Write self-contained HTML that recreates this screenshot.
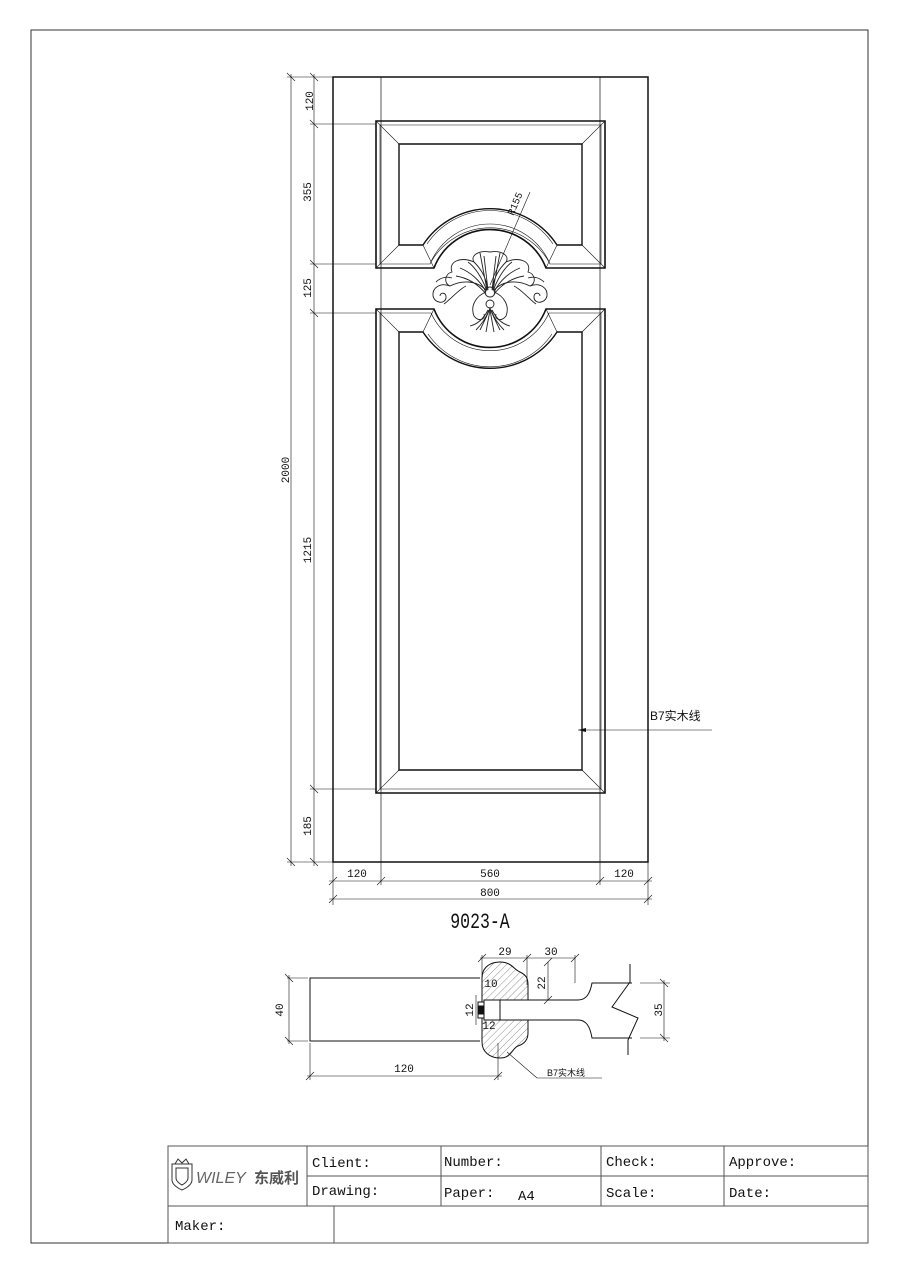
<!DOCTYPE html>
<html><head><meta charset="utf-8"><style>
html,body{margin:0;padding:0;background:#fff;}
svg{display:block}
text{font-family:"Liberation Sans","Noto Sans CJK SC",sans-serif;fill:#111}
.m{font-family:"Liberation Mono","Noto Sans CJK SC",monospace;}
</style></head><body>
<svg width="900" height="1274" viewBox="0 0 900 1274" xmlns="http://www.w3.org/2000/svg">
<rect x="31" y="30" width="837" height="1213" fill="none" stroke="#333" stroke-width="1"/>
<g fill="none" stroke="#111">
<rect x="333" y="77" width="315" height="785" stroke-width="1.5"/>
<line x1="381" y1="77" x2="381" y2="862" stroke-width="0.7"/>
<line x1="600" y1="77" x2="600" y2="862" stroke-width="0.7"/>
<path d="M376,121 H605 V268 H546 A60,60 0 0 0 434,268 H376 Z" stroke-width="1.6"/>
<path d="M380,125 H601 V264 H550 A65,65 0 0 0 430,264 H380 Z" stroke-width="0.6"/>
<path d="M399,144 H582 V245 H557 A80,80 0 0 0 423,245 H399 Z" stroke-width="1.4"/>
<path d="M427,244 A76,76 0 0 1 553,244 M431,262 A68,68 0 0 1 549,262" stroke-width="0.6"/>
<path d="M376,121 L399,144 M605,121 L582,144 M376,268 L399,245 M605,268 L582,245 M434,268 L423,245 M546,268 L557,245" stroke-width="0.6"/>
<path d="M376,309 H434 A60,60 0 0 0 546,309 H605 V793 H376 Z" stroke-width="1.6"/>
<path d="M380,313 H431 A65,65 0 0 0 549,313 H601 V789 H380 Z" stroke-width="0.6"/>
<path d="M399,332 H423 A80,80 0 0 0 557,332 H582 V770 H399 Z" stroke-width="1.4"/>
<path d="M428,334 A75,75 0 0 0 552,334" stroke-width="0.6"/>
<path d="M376,309 L399,332 M605,309 L582,332 M376,793 L399,770 M605,793 L582,770 M434,309 L423,332 M546,309 L557,332" stroke-width="0.6"/>
<g stroke-width="0.9" stroke="#222">
<path d="M490,252 C478,250 470,256 474,262 C460,256 448,262 452,272 C444,274 444,284 450,286 C462,280 476,280 486,290 M490,252 C502,250 510,256 506,262 C520,256 532,262 528,272 C536,274 536,284 530,286 C518,280 504,280 494,290"/>
<path d="M474,262 C480,268 486,276 488,290 M506,262 C500,268 494,276 492,290 M460,268 C470,272 480,280 486,292 M520,268 C510,272 500,280 494,292 M484,256 L488,290 M496,256 L492,290 M456,276 C468,278 478,284 486,294 M524,276 C512,278 502,284 494,294 M468,262 C476,268 482,278 487,291 M512,262 C504,268 498,278 493,291 M480,253 L487,290 M500,253 L493,290"/>
<path d="M486,292 C476,296 470,306 474,316 C478,322 486,320 484,314 M494,292 C504,296 510,306 506,316 C502,322 494,320 496,314"/>
<circle cx="490" cy="304" r="4"/>
<circle cx="490" cy="292" r="5"/>
<path d="M480,330 C484,322 488,314 490,308 C492,314 496,322 500,330 M470,326 C478,324 484,318 488,310 M510,326 C502,324 496,318 492,310 M486,332 L490,310 L494,332 M476,330 C482,324 486,318 489,310 M504,330 C498,324 494,318 491,310"/>
<path d="M450,286 C440,282 432,288 433,296 C435,304 445,304 446,298 C447,292 440,292 440,296 M444,304 C450,300 458,290 466,286 M436,282 C440,278 446,276 452,278"/>
<path d="M530,286 C540,282 548,288 547,296 C545,304 535,304 534,298 C533,292 540,292 540,296 M536,304 C530,300 522,290 514,286 M544,282 C540,278 534,276 528,278"/>
</g>
<line x1="490" y1="285" x2="530" y2="192" stroke-width="0.6"/>
<g stroke-width="0.6">
<line x1="291" y1="74" x2="291" y2="866"/>
<line x1="314" y1="74" x2="314" y2="866"/>
<line x1="287" y1="77" x2="333" y2="77"/>
<line x1="287" y1="862" x2="333" y2="862"/>
<line x1="310" y1="124" x2="376" y2="124"/>
<line x1="310" y1="264" x2="376" y2="264"/>
<line x1="310" y1="313" x2="376" y2="313"/>
<line x1="310" y1="789" x2="376" y2="789"/>
<path d="M287,73 l8,8 M310,73 l8,8 M287,858 l8,8 M310,858 l8,8 M310,120 l8,8 M310,260 l8,8 M310,309 l8,8 M310,785 l8,8"/>
<line x1="333" y1="862" x2="333" y2="905"/>
<line x1="648" y1="862" x2="648" y2="905"/>
<line x1="381" y1="862" x2="381" y2="885"/>
<line x1="600" y1="862" x2="600" y2="885"/>
<line x1="329" y1="881" x2="652" y2="881"/>
<line x1="329" y1="899" x2="652" y2="899"/>
<path d="M329,885 l8,-8 M377,885 l8,-8 M596,885 l8,-8 M644,885 l8,-8 M329,903 l8,-8 M644,903 l8,-8"/>
<path d="M578,730 H712"/>
</g>
<path d="M578,730 l8,-2 v4 z" fill="#111" stroke="none"/>
</g>
<g font-size="11" class="m">
<text x="310" y="101" transform="rotate(-90 310 101)" text-anchor="middle" dominant-baseline="middle" class="m">120</text>
<text x="308" y="192" transform="rotate(-90 308 192)" text-anchor="middle" class="m" dominant-baseline="middle">355</text>
<text x="308" y="288" transform="rotate(-90 308 288)" text-anchor="middle" class="m" dominant-baseline="middle">125</text>
<text x="308" y="550" transform="rotate(-90 308 550)" text-anchor="middle" class="m" dominant-baseline="middle">1215</text>
<text x="308" y="826" transform="rotate(-90 308 826)" text-anchor="middle" class="m" dominant-baseline="middle">185</text>
<text x="286" y="470" transform="rotate(-90 286 470)" text-anchor="middle" class="m" dominant-baseline="middle">2000</text>
<text x="357" y="877" text-anchor="middle" class="m">120</text>
<text x="490" y="877" text-anchor="middle" class="m">560</text>
<text x="624" y="877" text-anchor="middle" class="m">120</text>
<text x="490" y="896" text-anchor="middle" class="m">800</text>
<text x="518" y="205" transform="rotate(-67 518 205)" text-anchor="middle" class="m" font-size="10">R155</text>
</g>
<text x="650" y="720" font-size="12">B7实木线</text>
<text x="480" y="928" font-size="22" text-anchor="middle" transform="translate(480 0) scale(0.75 1) translate(-480 0)" class="m">9023-A</text>

<g fill="none" stroke="#111" stroke-width="1">
<defs><pattern id="h" width="5" height="5" patternUnits="userSpaceOnUse" patternTransform="rotate(45)"><line x1="0" y1="0" x2="0" y2="5" stroke="#444" stroke-width="0.6"/></pattern></defs>
<path d="M480,978 H310 V1041 H480"/>
<path d="M482,978 C482,966 492,962 500,962 C512,962 514,970 520,972 C526,975 528,978 528,985 V1000 H500 V1020 H528 V1033 C528,1040 524,1044 518,1046 C512,1048 512,1058 500,1058 C490,1058 482,1052 482,1042 Z" fill="url(#h)"/>
<path d="M484,1000 H500 V1020 H484 Z" fill="#fff"/>
<rect x="478" y="1002" width="6" height="16" fill="#fff"/>
<rect x="479" y="1006" width="5" height="8" fill="#111"/>
<path d="M500,1000 H578 C586,1000 590,994 592,983 H632 M500,1020 H578 C586,1020 590,1026 592,1038 H632"/>
<path d="M630,964 V982 L612,1007 L638,1018 L628,1040 V1055"/>
</g>
<g fill="none" stroke="#111" stroke-width="0.6">
<line x1="287" y1="978" x2="308" y2="978"/><line x1="287" y1="1041" x2="308" y2="1041"/>
<line x1="289" y1="975" x2="289" y2="1044"/>
<path d="M285,974 l8,8 M285,1037 l8,8"/>
<line x1="310" y1="1043" x2="310" y2="1080"/><line x1="498" y1="1043" x2="498" y2="1080"/>
<line x1="307" y1="1076" x2="502" y2="1076"/>
<path d="M306,1080 l8,-8 M494,1080 l8,-8"/>
<line x1="480" y1="958" x2="575" y2="958"/>
<line x1="482" y1="955" x2="482" y2="975"/><line x1="527" y1="955" x2="527" y2="985"/><line x1="575" y1="955" x2="575" y2="983"/>
<path d="M478,962 l8,-8 M523,962 l8,-8 M571,962 l8,-8"/>
<line x1="548" y1="962" x2="548" y2="1000"/>
<path d="M544,966 l8,-8 M544,1004 l8,-8"/>
<line x1="640" y1="983" x2="670" y2="983"/><line x1="640" y1="1038" x2="670" y2="1038"/>
<line x1="664" y1="980" x2="664" y2="1041"/>
<path d="M660,979 l8,8 M660,1034 l8,8"/>
<line x1="507" y1="1052" x2="537" y2="1078"/><line x1="537" y1="1078" x2="602" y2="1078"/>
<line x1="476" y1="995" x2="476" y2="1025"/>
</g>
<g font-size="11" class="m">
<text x="283" y="1010" transform="rotate(-90 283 1010)" text-anchor="middle" class="m">40</text>
<text x="404" y="1072" text-anchor="middle" class="m">120</text>
<text x="505" y="955" text-anchor="middle" class="m">29</text>
<text x="551" y="955" text-anchor="middle" class="m">30</text>
<text x="545" y="983" transform="rotate(-90 545 983)" text-anchor="middle" class="m">22</text>
<text x="662" y="1010" transform="rotate(-90 662 1010)" text-anchor="middle" class="m">35</text>
<text x="473" y="1010" transform="rotate(-90 473 1010)" text-anchor="middle" class="m">12</text>
<text x="491" y="987" text-anchor="middle" class="m">10</text>
<text x="489" y="1029" text-anchor="middle" class="m">12</text>
</g>
<text x="547" y="1076" font-size="9">B7实木线</text>

<g fill="none" stroke="#555" stroke-width="1">
<rect x="168" y="1146" width="700" height="97"/>
<line x1="307" y1="1176" x2="868" y2="1176"/>
<line x1="168" y1="1206" x2="868" y2="1206"/>
<line x1="307" y1="1146" x2="307" y2="1206"/>
<line x1="441" y1="1146" x2="441" y2="1206"/>
<line x1="601" y1="1146" x2="601" y2="1206"/>
<line x1="724" y1="1146" x2="724" y2="1206"/>
<line x1="334" y1="1206" x2="334" y2="1243"/>
</g>
<g font-size="14" class="m">
<text x="312" y="1167" class="m">Client:</text>
<text x="444" y="1166" class="m">Number:</text>
<text x="606" y="1166" class="m">Check:</text>
<text x="729" y="1166" class="m">Approve:</text>
<text x="312" y="1195" class="m">Drawing:</text>
<text x="444" y="1197" class="m">Paper:</text>
<text x="518" y="1200" class="m">A4</text>
<text x="606" y="1197" class="m">Scale:</text>
<text x="729" y="1197" class="m">Date:</text>
<text x="175" y="1230" class="m">Maker:</text>
</g>
<g fill="none" stroke="#333" stroke-width="1">
<path d="M172,1164 H192 V1180 C192,1186 182,1190 182,1190 C182,1190 172,1186 172,1180 Z"/>
<path d="M176,1168 H188 V1178 C188,1182 182,1185 182,1185 C182,1185 176,1182 176,1178 Z"/>
<path d="M175,1164 L178,1159 L182,1163 L186,1159 L189,1164"/>
</g>
<text x="196" y="1183" font-size="16" font-style="italic" style="fill:#666">WILEY</text>
<text x="254" y="1183" font-size="15" style="fill:#555" font-weight="bold">东威利</text>
</svg>
</body></html>
